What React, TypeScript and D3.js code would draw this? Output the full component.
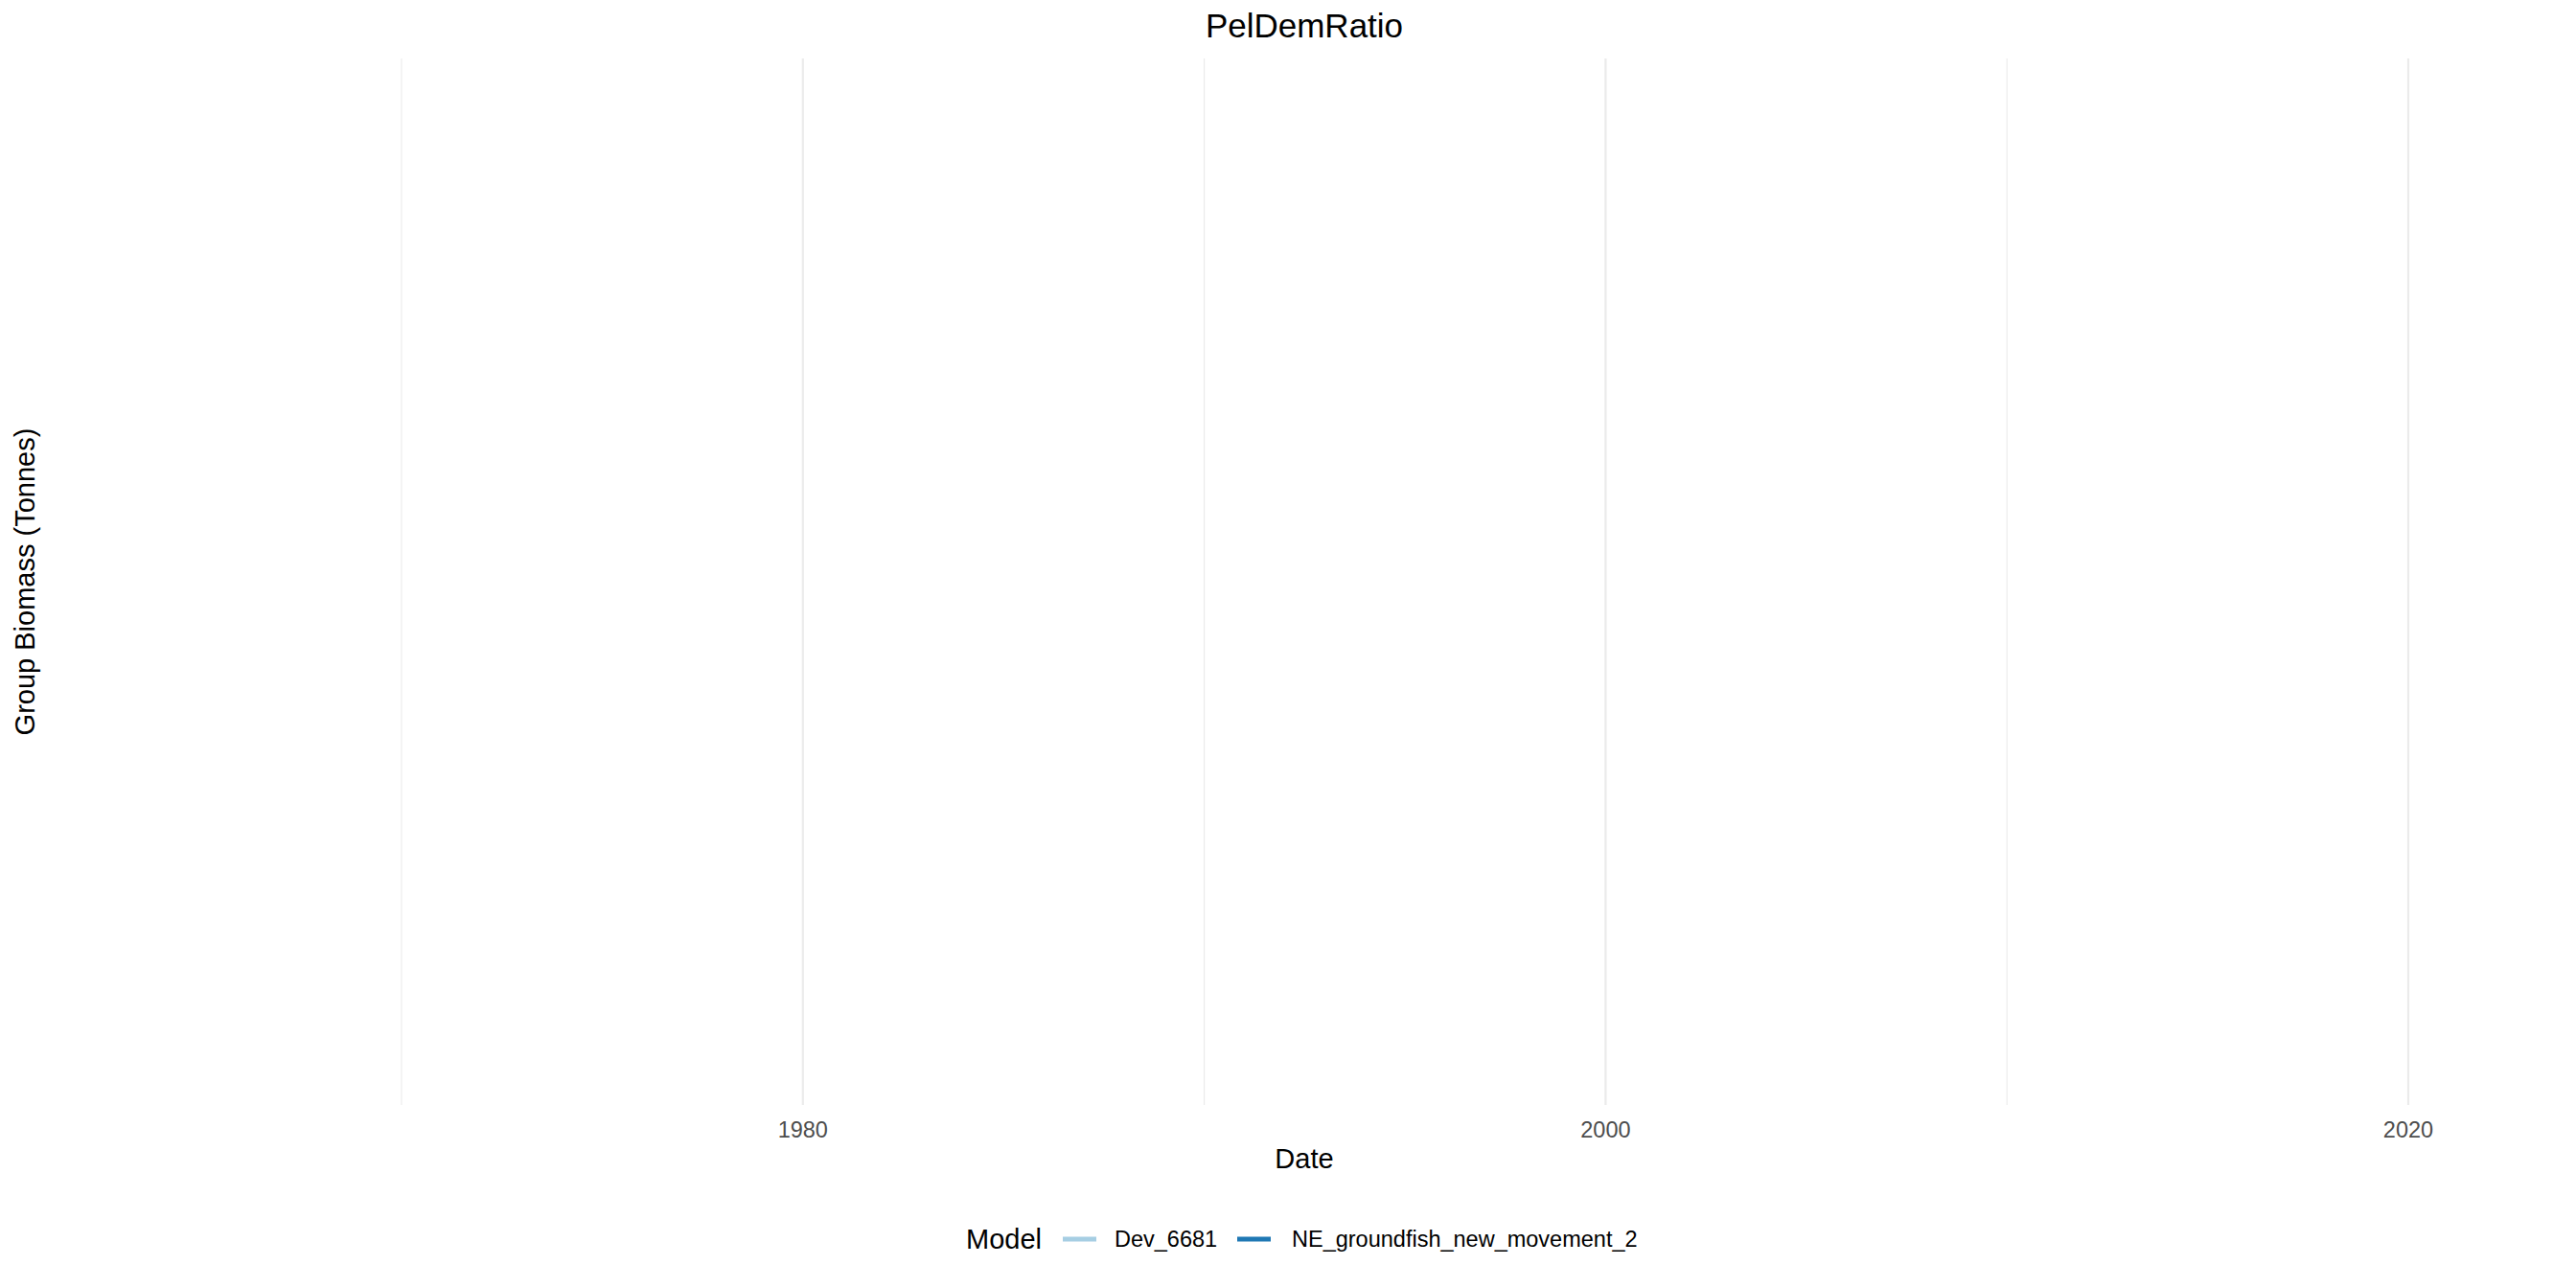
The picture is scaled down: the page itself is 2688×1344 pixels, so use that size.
import React from "react";
import * as d3 from "d3";

const W = 2688;
const H = 1344;

const chartTitle = "PelDemRatio";
const xLabel = "Date";
const yLabel = "Group Biomass (Tonnes)";
const legendTitle = "Model";
const models = ["Dev_6681", "NE_groundfish_new_movement_2"];
const modelColors = ["#a6cee3", "#1f78b4"];
const majorYears = [1980, 2000, 2020];
const minorYears = [1970, 1990, 2010];
// The series have no finite values in the reference (nothing is plotted).
const years: number[] = [];
const dev6681: (number | null)[] = [];
const neGroundfish: (number | null)[] = [];
const seriesValues = [dev6681, neGroundfish];

const font = "Liberation Sans, Arial, Helvetica, sans-serif";

export default function App() {
  const left = 50;
  const right = 2672;
  const top = 61;
  const bottom = 1153;
  const pxPerYear = (2513 - 419) / 50;
  const x = d3
    .scaleLinear()
    .domain([1970 - (419 - left) / pxPerYear, 2020 + (right - 2513) / pxPerYear])
    .range([left, right]);
  const y = d3.scaleLinear().domain([0, 1]).range([bottom, top]);
  const line = d3
    .line<number | null>()
    .defined((d) => d != null && isFinite(d as number))
    .x((_, i) => x(years[i]))
    .y((d) => y(d as number));
  const cx = (left + right) / 2;

  return (
    <svg width={W} height={H} style={{ position: "absolute", left: 0, top: 0, background: "#fff" }}>
      <rect x={0} y={0} width={W} height={H} fill="#fff" />
      {minorYears.map((yr) => (
        <line key={"mi" + yr} x1={x(yr)} x2={x(yr)} y1={top} y2={bottom} stroke="#ebebeb" strokeWidth={1.1} />
      ))}
      {majorYears.map((yr) => (
        <line key={"ma" + yr} x1={x(yr)} x2={x(yr)} y1={top} y2={bottom} stroke="#ebebeb" strokeWidth={2.2} />
      ))}
      {seriesValues.map((s, i) => (
        <path key={"s" + i} d={line(s) || ""} fill="none" stroke={modelColors[i]} strokeWidth={3} />
      ))}
      {majorYears.map((yr) => (
        <text key={"t" + yr} x={x(yr)} y={1187} textAnchor="middle" fontFamily={font} fontSize={23.5} fill="#4d4d4d">
          {yr}
        </text>
      ))}
      <text x={cx} y={39} textAnchor="middle" fontFamily={font} fontSize={35} fill="#000">
        {chartTitle}
      </text>
      <text x={cx} y={1219} textAnchor="middle" fontFamily={font} fontSize={29} fill="#000">
        {xLabel}
      </text>
      <text
        transform={`translate(36,${(top + bottom) / 2}) rotate(-90)`}
        textAnchor="middle"
        fontFamily={font}
        fontSize={29}
        fill="#000"
      >
        {yLabel}
      </text>
      <g>
        <text x={1008} y={1303} fontFamily={font} fontSize={29} fill="#000">
          {legendTitle}
        </text>
        {models.map((m, i) => {
          const kx = [1109, 1291][i];
          const tx = [1163, 1348][i];
          return (
            <g key={m}>
              <line x1={kx} x2={kx + 35} y1={1293} y2={1293} stroke={modelColors[i]} strokeWidth={5} />
              <text x={tx} y={1301} fontFamily={font} fontSize={23.5} fill="#000">
                {m}
              </text>
            </g>
          );
        })}
      </g>
    </svg>
  );
}
